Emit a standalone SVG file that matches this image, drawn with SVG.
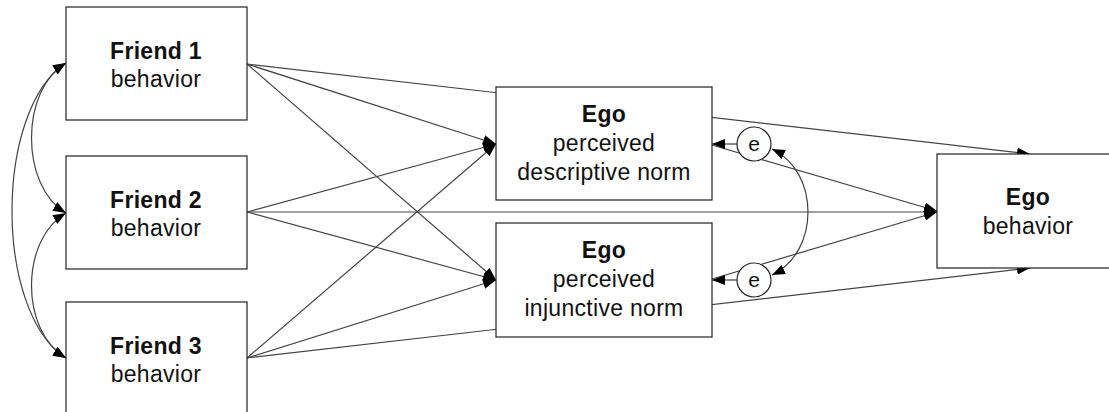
<svg xmlns="http://www.w3.org/2000/svg" width="1109" height="412" viewBox="0 0 1109 412">
<style>
.box{fill:#fff;stroke:#222;stroke-width:1.2}
.ln{fill:none;stroke:#444;stroke-width:1.2}
.t{font-family:"Liberation Sans",Arial,sans-serif;font-size:23px;letter-spacing:0.3px;fill:#111;text-anchor:middle}
.b{font-weight:bold}
.e{font-size:21px;letter-spacing:0}
</style>
<defs>
<marker id="ah" markerUnits="userSpaceOnUse" markerWidth="13" markerHeight="10" refX="13" refY="5" orient="auto-start-reverse" viewBox="0 0 13 10">
<path d="M0,0 L13,5 L0,10 z" fill="#000"/>
</marker>
</defs>
<rect width="1109" height="412" fill="#fff"/>
<g id="connectors">
<path class="ln" d="M247,64 L1030,154" marker-end="url(#ah)"/>
<path class="ln" d="M247,358 L1030,268" marker-end="url(#ah)"/>
<path class="ln" d="M247,212 L937,212" marker-end="url(#ah)"/>
<path class="ln" d="M247,64 L496,144" marker-end="url(#ah)"/>
<path class="ln" d="M247,64 L496,280" marker-end="url(#ah)"/>
<path class="ln" d="M247,212 L496,144" marker-end="url(#ah)"/>
<path class="ln" d="M247,212 L496,280" marker-end="url(#ah)"/>
<path class="ln" d="M247,358 L496,144" marker-end="url(#ah)"/>
<path class="ln" d="M247,358 L496,280" marker-end="url(#ah)"/>
<path class="ln" d="M712,145 L937,211" marker-end="url(#ah)"/>
<path class="ln" d="M712,279 L937,212" marker-end="url(#ah)"/>
<path class="ln" d="M737,144 L712,144" marker-end="url(#ah)"/>
<path class="ln" d="M737,280 L712,280" marker-end="url(#ah)"/>
<path class="ln" d="M772,149 C820,172 820,252 772,275" marker-start="url(#ah)" marker-end="url(#ah)"/>
<path class="ln" d="M66,63 C20,90 20,186 66,213" marker-start="url(#ah)" marker-end="url(#ah)"/>
<path class="ln" d="M66,213 C20,240 20,331 66,358" marker-start="url(#ah)" marker-end="url(#ah)"/>
<path class="ln" d="M66,63 C-6,110 -6,312 66,358" marker-start="url(#ah)" marker-end="url(#ah)"/>
</g>
<g id="friend1">
<rect class="box" x="66" y="7" width="181" height="113"/>
<text class="t b" x="156" y="59">Friend 1</text>
<text class="t" x="156" y="87">behavior</text>
</g>
<g id="friend2">
<rect class="box" x="66" y="156" width="181" height="113"/>
<text class="t b" x="156" y="208">Friend 2</text>
<text class="t" x="156" y="236">behavior</text>
</g>
<g id="friend3">
<rect class="box" x="66" y="302" width="181" height="113"/>
<text class="t b" x="156" y="354">Friend 3</text>
<text class="t" x="156" y="382">behavior</text>
</g>
<g id="desc">
<rect class="box" x="496" y="87" width="216" height="113"/>
<text class="t b" x="604" y="122">Ego</text>
<text class="t" x="604" y="151">perceived</text>
<text class="t" x="604" y="180">descriptive norm</text>
</g>
<g id="inj">
<rect class="box" x="496" y="223" width="216" height="114"/>
<text class="t b" x="604" y="258">Ego</text>
<text class="t" x="604" y="287">perceived</text>
<text class="t" x="604" y="316">injunctive norm</text>
</g>
<g id="egobeh">
<rect class="box" x="937" y="154" width="182" height="114"/>
<text class="t b" x="1028" y="205">Ego</text>
<text class="t" x="1028" y="234">behavior</text>
</g>
<g id="e1">
<circle class="box" cx="754" cy="144" r="17"/>
<text class="t e" x="754" y="151">e</text>
</g>
<g id="e2">
<circle class="box" cx="754" cy="280" r="17"/>
<text class="t e" x="754" y="287">e</text>
</g>
</svg>
